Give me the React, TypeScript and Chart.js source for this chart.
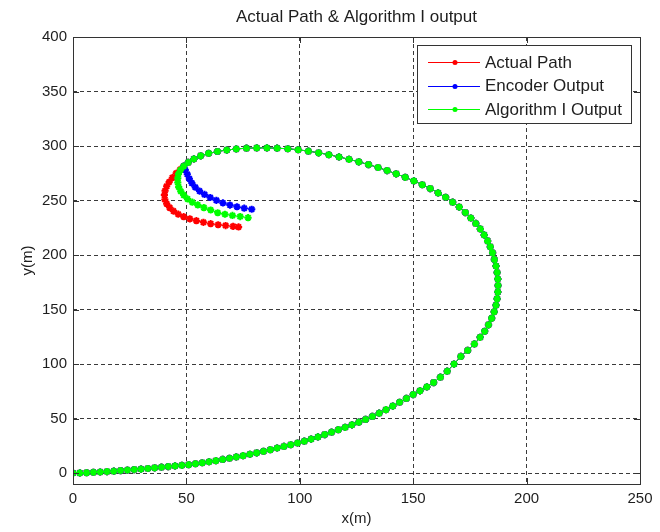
import { useEffect, useRef } from "react";
import { Chart, registerables } from "chart.js";

Chart.register(...registerables);

const TITLE = "Actual Path & Algorithm I output";
const X_LABEL = "x(m)";
const Y_LABEL = "y(m)";

const xTicks = [0, 50, 100, 150, 200, 250];
const yTicks = [0, 50, 100, 150, 200, 250, 300, 350, 400];

const seriesNames = ["Actual Path", "Encoder Output", "Algorithm I Output"];
const seriesColors = ["#ff0000", "#0000ff", "#00ff00"];

// Common part of the spiral where all three traces coincide
const trunkX = [
  0, 3, 6, 9, 12, 15, 18, 21, 24, 27, 30, 33, 36, 39, 42, 45, 48, 51, 54, 57,
  60, 63, 66, 69, 72, 75, 78, 81, 84, 87, 90, 93, 96, 99, 102, 105, 108, 111,
  114, 117, 120, 123, 126, 129, 132, 135, 138, 141, 144, 147, 150, 153, 156,
  159, 162, 165, 168, 171, 174, 177, 179.5, 181.5, 183.2, 184.6, 185.7, 186.5,
  187, 187.3, 187.4, 187.3, 187, 186.5, 185.8, 185, 184, 182.8, 181.3, 179.6,
  177.6, 175.4, 173, 170.3, 167.4, 164.3, 161, 157.5, 154, 150.3, 146.5, 142.5,
  138.5, 134.5, 130.3, 126, 121.7, 117.3, 112.8, 108.3, 103.8, 99.3, 94.7, 90,
  85.5, 81, 76.5, 72, 67.8, 63.7, 59.8, 56.3, 53.3, 50.8, 48.8,
];
const trunkY = [
  0, 0.2, 0.4, 0.7, 1.0, 1.4, 1.8, 2.3, 2.8, 3.2, 3.7, 4.2, 4.8, 5.4, 6.0, 6.6,
  7.1, 7.7, 8.6, 9.5, 10.4, 11.4, 12.5, 13.6, 14.8, 16, 17.3, 18.6, 20, 21.5,
  23, 24.5, 26, 27.6, 29.3, 31.2, 33.2, 35.3, 37.5, 39.8, 42, 44.3, 46.7, 49.2,
  52, 55, 58.2, 61.5, 65, 68.5, 72, 75.5, 79, 83, 88, 93.5, 100, 107, 112.5,
  118.5, 124.5, 130, 136, 142, 148, 154, 160, 166, 172, 178, 184, 190, 196, 202,
  207.5, 213, 218.5, 224, 229, 234, 239, 244, 248.5, 253, 257, 261, 264.5, 268,
  271.3, 274.5, 277.5, 280.3, 283, 285.5, 287.8, 290, 292, 293.8, 295.3, 296.6,
  297.5, 298, 298.3, 298.3, 298, 297.3, 296.3, 295, 293.3, 291, 288.2, 285,
  281.5,
];

// Where the traces separate near the end of the run
const actualTailX = [
  47.3, 45.5, 43.8, 42.4, 41.3, 40.6, 40.3, 40.5, 41.3, 42.6, 44.3, 46.4, 48.8,
  51.5, 54.4, 57.5, 60.7, 64, 67.3, 70.6, 73,
];
const actualTailY = [
  278.5, 275, 271, 267, 263, 259, 255, 251, 247, 243.5, 240.3, 237.5, 235.2,
  233.2, 231.5, 230, 228.8, 227.8, 227, 226.3, 225.8,
];

const encoderTailX = [
  49.5, 50.4, 51.3, 52.4, 53.9, 55.8, 58, 60.5, 63.2, 66.1, 69.2, 72.3, 75.5,
  78.8,
];
const encoderTailY = [
  278, 274, 270, 266, 262.2, 258.7, 255.6, 252.8, 250.2, 247.8, 245.8, 244.3,
  243, 242,
];

const algoTailX = [
  47.4, 46.5, 46.2, 46.2, 46.6, 47.5, 48.8, 50.5, 52.6, 55, 57.7, 60.7, 63.8,
  67, 70.3, 73.7, 77.2,
];
const algoTailY = [
  278, 274.3, 270.5, 266.5, 262.5, 258.5, 255, 251.5, 248.5, 246, 243.5, 241.3,
  238.8, 237.4, 236.3, 235.3, 234.3,
];

const FONT = "'Liberation Sans', Arial, Helvetica, sans-serif";
const TEXT = "#1e1e1e";
const FRAME = "#333333";

function toPoints(xs: number[], ys: number[]) {
  return xs.map((x, i) => ({ x, y: ys[i] }));
}

const decorations = {
  id: "matlabFrame",
  afterDraw(chart: Chart) {
    const { ctx, chartArea } = chart;
    const { left, right, top, bottom } = chartArea;
    const xs = chart.scales.x;
    const ys = chart.scales.y;
    ctx.save();

    // axes box
    ctx.strokeStyle = FRAME;
    ctx.lineWidth = 1;
    ctx.setLineDash([]);
    ctx.strokeRect(Math.round(left) + 0.5, Math.round(top) + 0.5, Math.round(right - left), Math.round(bottom - top));

    // inward tick marks on all four sides
    const tl = 6;
    ctx.beginPath();
    for (const v of xTicks) {
      const px = Math.round(xs.getPixelForValue(v)) + 0.5;
      ctx.moveTo(px, bottom);
      ctx.lineTo(px, bottom - tl);
      ctx.moveTo(px, top);
      ctx.lineTo(px, top + tl);
    }
    for (const v of yTicks) {
      const py = Math.round(ys.getPixelForValue(v)) + 0.5;
      ctx.moveTo(left, py);
      ctx.lineTo(left + tl, py);
      ctx.moveTo(right, py);
      ctx.lineTo(right - tl, py);
    }
    ctx.stroke();

    // title and axis labels
    ctx.fillStyle = TEXT;
    ctx.textAlign = "center";
    ctx.textBaseline = "middle";
    ctx.font = `17px ${FONT}`;
    ctx.fillText(TITLE, (left + right) / 2, 17);
    ctx.font = `15px ${FONT}`;
    ctx.fillText(X_LABEL, (left + right) / 2, 519);
    ctx.save();
    ctx.translate(28, (top + bottom) / 2);
    ctx.rotate(-Math.PI / 2);
    ctx.fillText(Y_LABEL, 0, 0);
    ctx.restore();

    // legend box inside the axes
    const lx = 417.5;
    const ly = 45.5;
    const lw = 214;
    const lh = 78;
    ctx.fillStyle = "#ffffff";
    ctx.fillRect(lx, ly, lw, lh);
    ctx.strokeStyle = FRAME;
    ctx.strokeRect(lx, ly, lw, lh);
    const rows = [62, 85.5, 109];
    seriesNames.forEach((name, i) => {
      const y = rows[i];
      ctx.strokeStyle = seriesColors[i];
      ctx.lineWidth = 1;
      ctx.beginPath();
      ctx.moveTo(428, Math.round(y) + 0.5);
      ctx.lineTo(480, Math.round(y) + 0.5);
      ctx.stroke();
      ctx.fillStyle = seriesColors[i];
      ctx.beginPath();
      ctx.arc(455, Math.round(y) + 0.5, 2.5, 0, Math.PI * 2);
      ctx.fill();
      ctx.fillStyle = TEXT;
      ctx.textAlign = "left";
      ctx.font = `17px ${FONT}`;
      ctx.fillText(name, 485, y + 1);
    });
    ctx.restore();
  },
};

export default function App() {
  const canvasRef = useRef<HTMLCanvasElement | null>(null);

  useEffect(() => {
    const canvas = canvasRef.current;
    if (!canvas) return;

    const seriesX = [
      [...trunkX, ...actualTailX],
      [...trunkX, ...encoderTailX],
      [...trunkX, ...algoTailX],
    ];
    const seriesY = [
      [...trunkY, ...actualTailY],
      [...trunkY, ...encoderTailY],
      [...trunkY, ...algoTailY],
    ];

    const datasets = seriesNames.map((label, i) => ({
      label,
      data: toPoints(seriesX[i], seriesY[i]),
      borderColor: seriesColors[i],
      backgroundColor: seriesColors[i],
      borderWidth: 1,
      pointStyle: "star" as const,
      pointRadius: 3.6,
      pointBorderWidth: 2,
      pointBorderColor: seriesColors[i],
      pointBackgroundColor: seriesColors[i],
      showLine: true,
      tension: 0,
      order: 3 - i,
    }));

    const tickFont = { family: FONT, size: 15 };

    const chart = new Chart(canvas, {
      type: "scatter",
      data: { datasets },
      options: {
        animation: false,
        responsive: false,
        events: [],
        layout: { padding: { top: 37, right: 20, left: 0, bottom: 0 } },
        plugins: {
          legend: { display: false },
          title: { display: false },
          tooltip: { enabled: false },
        },
        scales: {
          x: {
            type: "linear",
            min: 0,
            max: 250,
            afterBuildTicks: (s: any) => {
              s.ticks = xTicks.map((value) => ({ value }));
            },
            afterFit: (s: any) => {
              s.height = 48;
            },
            grid: { color: "#3a3a3a", lineWidth: 1, drawTicks: false },
            border: { display: false, dash: [4, 3] },
            ticks: { padding: 6, font: tickFont, color: TEXT, maxRotation: 0 },
          },
          y: {
            type: "linear",
            min: -10,
            max: 400,
            afterBuildTicks: (s: any) => {
              s.ticks = yTicks.map((value) => ({ value }));
            },
            afterFit: (s: any) => {
              s.width = 73;
            },
            grid: { color: "#3a3a3a", lineWidth: 1, drawTicks: false },
            border: { display: false, dash: [4, 3] },
            ticks: { padding: 6, font: tickFont, color: TEXT },
          },
        },
      },
      plugins: [decorations],
    });

    return () => chart.destroy();
  }, []);

  return (
    <div style={{ position: "fixed", left: 0, top: 0, width: 660, height: 532, background: "#ffffff" }}>
      <canvas ref={canvasRef} width={660} height={532} style={{ display: "block" }} />
    </div>
  );
}
